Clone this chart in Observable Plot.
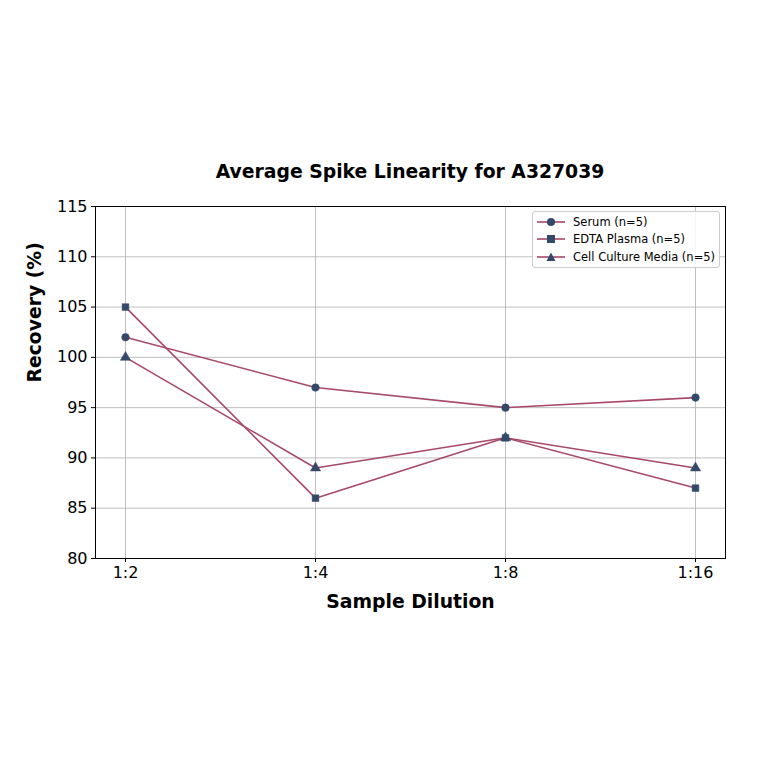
<!DOCTYPE html>
<html><head><meta charset="utf-8">
<script src="https://cdn.jsdelivr.net/npm/d3@7"></script>
<script src="https://cdn.jsdelivr.net/npm/@observablehq/plot@0.6"></script>
<style>
body{margin:0;background:#fff;font-family:"DejaVu Sans",sans-serif;}
#wrap{position:relative;width:764px;height:764px;}
#title{position:absolute;left:95px;width:630px;top:161px;text-align:center;font-weight:bold;font-size:18.8px;}
#legend{position:absolute;left:532px;top:211px;width:186px;height:54px;border:1px solid #ccc;border-radius:3px;background:rgba(255,255,255,0.85);font-size:11.5px;}
#legend div{height:17.5px;display:flex;align-items:center;}
#legend svg{margin:0 8px 0 4px;}
</style></head>
<body><div id="wrap"><div id="title">Average Spike Linearity for A327039</div><div id="chart"></div><div id="legend"></div></div>
<script>
const dilutions = ["1:2","1:4","1:8","1:16"];
const seriesNames = ["Serum (n=5)","EDTA Plasma (n=5)","Cell Culture Media (n=5)"];
const serum = [102, 97, 95, 96];
const edta = [105, 86, 92, 87];
const cellCulture = [100, 89, 92, 89];
const symbols = ["circle","square","triangle"];
const yTicks = [80,85,90,95,100,105,110,115];

const lineColor = "#a8486a";
const markColor = "#34496a";
const all = [serum, edta, cellCulture];
const data = [];
all.forEach((vals, si) => vals.forEach((v, i) => data.push({series: seriesNames[si], sym: symbols[si], x: dilutions[i], y: v})));

const plot = Plot.plot({
  width: 764, height: 764,
  marginLeft: 95, marginRight: 39, marginTop: 206, marginBottom: 206,
  style: {fontFamily: "DejaVu Sans, sans-serif", fontSize: "16px", color: "#000", background: "#fff"},
  x: {type: "point", domain: dilutions, padding: 0.15, label: null},
  y: {domain: [80,115], ticks: yTicks, label: null},
  symbol: {domain: symbols, range: symbols},
  marks: [
    Plot.gridX(dilutions, {stroke: "#b0b0b0", strokeOpacity: 1, strokeWidth: 0.8}),
    Plot.gridY(yTicks, {stroke: "#b0b0b0", strokeOpacity: 1, strokeWidth: 0.8}),
    Plot.frame({stroke: "#000", strokeWidth: 1}),
    Plot.axisX(dilutions, {tickSize: 4, tickPadding: 4, fontSize: 16, label: null}),
    Plot.axisY(yTicks, {tickSize: 4, tickPadding: 4, fontSize: 16, label: null}),
    Plot.line(data, {x: "x", y: "y", z: "series", stroke: lineColor, strokeWidth: 1.6}),
    Plot.dot(data, {x: "x", y: "y", symbol: "sym", fill: markColor, stroke: markColor, strokeWidth: 0.5, r: 3.8}),
    Plot.text(["Sample Dilution"], {frameAnchor: "bottom", dy: 49, fontSize: 18.8, fontWeight: "bold"}),
    Plot.text(["Recovery (%)"], {frameAnchor: "left", dx: -61, rotate: -90, fontSize: 18.8, fontWeight: "bold"})
  ]
});
document.getElementById("chart").appendChild(plot);

const leg = document.getElementById("legend");
leg.style.paddingTop = "1px";
seriesNames.forEach((name, i) => {
  const row = document.createElement("div");
  let shape = "";
  if (symbols[i] === "circle") shape = `<circle cx="14" cy="6" r="4" fill="${markColor}"/>`;
  else if (symbols[i] === "square") shape = `<rect x="10" y="2" width="8" height="8" fill="${markColor}"/>`;
  else shape = `<path d="M14,1.5 L18.5,10 L9.5,10 Z" fill="${markColor}"/>`;
  row.innerHTML = `<svg width="28" height="12"><line x1="0" y1="6" x2="28" y2="6" stroke="${lineColor}" stroke-width="1.6"/>${shape}</svg><span>${name}</span>`;
  leg.appendChild(row);
});
</script></body></html>
